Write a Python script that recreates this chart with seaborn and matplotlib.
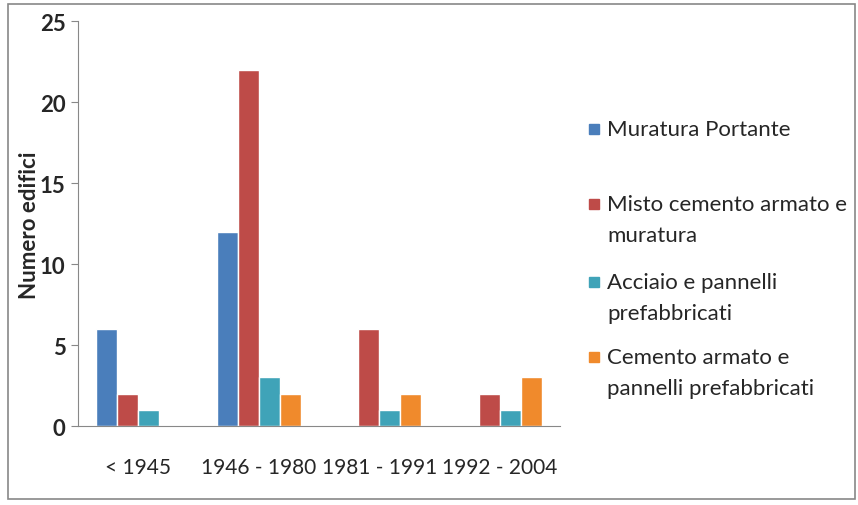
import matplotlib
matplotlib.use("Agg")
import matplotlib.pyplot as plt
import seaborn as sns
import pandas as pd
from matplotlib.patches import Rectangle

# data
periods = ["< 1945", "1946 - 1980", "1981 - 1991", "1992 - 2004"]
series = ["Muratura Portante", "Misto cemento armato e\nmuratura",
          "Acciaio e pannelli\nprefabbricati", "Cemento armato e\npannelli prefabbricati"]
muratura = [6, 12, 0, 0]
misto = [2, 22, 6, 2]
acciaio = [1, 3, 1, 1]
cemento = [0, 2, 2, 3]
colors = ["#4A7EBB", "#BE4B48", "#3FA3B8", "#F08A2C"]

records = []
for name, vals in zip(series, [muratura, misto, acciaio, cemento]):
    for p, v in zip(periods, vals):
        records.append({"period": p, "series": name, "value": v})
df = pd.DataFrame(records)

sns.set_style("white")
plt.rcParams["font.family"] = ["Lato", "DejaVu Sans"]

W, H = 858, 506
fig = plt.figure(figsize=(W / 100, H / 100), dpi=100)
ax = fig.add_axes([0.0909, 0.1561, 0.5618, 0.8004])

sns.barplot(data=df, x="period", y="value", hue="series", palette=colors,
            width=0.7, saturation=1, ax=ax, legend=False)

ax.set_ylim(0, 25)
ax.set_yticks([0, 5, 10, 15, 20, 25])
ax.set_xlim(-0.5, 3.5)
ax.set_xlabel("")
ax.set_ylabel("")
fig.text(30 / W, 1 - 225 / H, "Numero edifici", rotation=90, fontsize=16,
         fontweight="bold", ha="center", va="center")
ax.tick_params(axis="y", labelsize=16, length=5, color="#888888", direction="out",
               left=True, pad=4)
for lbl in ax.get_yticklabels():
    lbl.set_fontweight("bold")
ax.tick_params(axis="x", labelsize=15, length=0, pad=22)

for s in ["top", "right"]:
    ax.spines[s].set_visible(False)
ax.spines["left"].set_color("#888888")
ax.spines["bottom"].set_color("#888888")

# legend, laid out like the spreadsheet one (marker beside first line)
first_rows = [130, 205, 283, 358]
for name, c, y0 in zip(series, colors, first_rows):
    fig.patches.append(Rectangle((589 / W, 1 - (y0 + 5) / H), 10 / W, 10 / H,
                                 transform=fig.transFigure, facecolor=c,
                                 edgecolor=c))
    for k, line in enumerate(name.split("\n")):
        fig.text(607 / W, 1 - (y0 + 31 * k) / H, line, fontsize=16,
                 ha="left", va="center")

fig.patches.append(Rectangle((0.009, 0.012), 0.988, 0.978, transform=fig.transFigure,
                             fill=False, edgecolor="#888888", linewidth=1.2))

fig.savefig("out.png", dpi=100)
